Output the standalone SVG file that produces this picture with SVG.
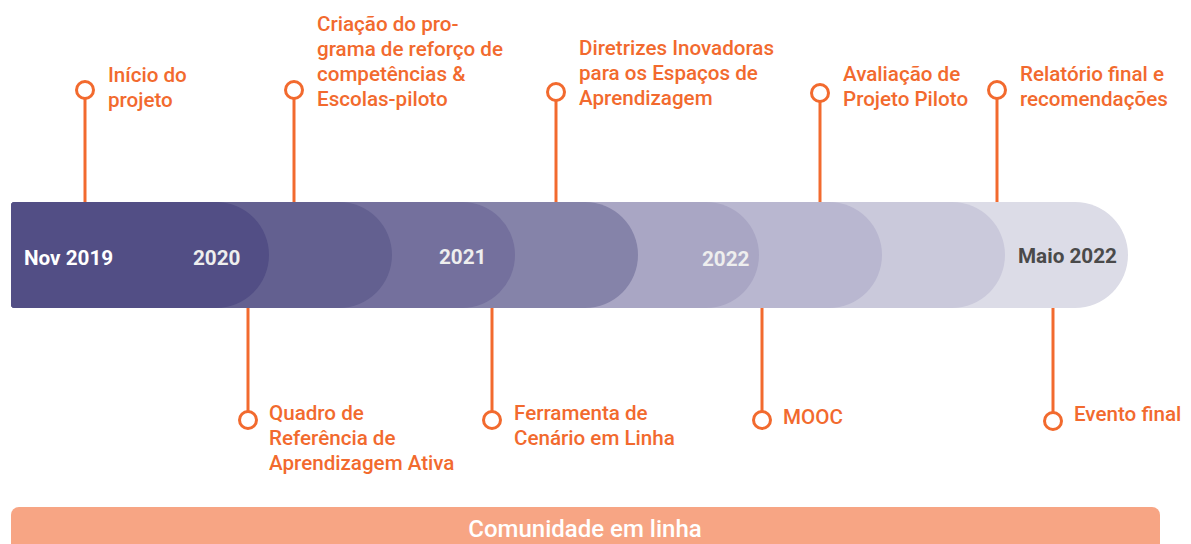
<svg xmlns="http://www.w3.org/2000/svg" width="1191" height="544" viewBox="0 0 1191 544">
<style>
.lbl{font-family:Roboto,"Liberation Sans",sans-serif;font-size:20.6px;font-weight:500;fill:#f26a2e}
.yr{font-family:Roboto,"Liberation Sans",sans-serif;font-size:20.7px;font-weight:700}
.stem{stroke:#f26a2e;stroke-width:3;fill:none}
.dot{stroke:#f26a2e;stroke-width:3;fill:#fff}
</style>
<rect width="1191" height="544" fill="#fff"/>
<g id="bar">
<path d="M15 202H1075A53 53 0 0 1 1075 308H15Q11 308 11 304V206Q11 202 15 202Z" fill="#dcdce7"/>
<path d="M15 202H952A53 53 0 0 1 952 308H15Q11 308 11 304V206Q11 202 15 202Z" fill="#cac9db"/>
<path d="M15 202H829A53 53 0 0 1 829 308H15Q11 308 11 304V206Q11 202 15 202Z" fill="#b9b7d0"/>
<path d="M15 202H706A53 53 0 0 1 706 308H15Q11 308 11 304V206Q11 202 15 202Z" fill="#a9a6c4"/>
<path d="M15 202H585A53 53 0 0 1 585 308H15Q11 308 11 304V206Q11 202 15 202Z" fill="#8583a9"/>
<path d="M15 202H462A53 53 0 0 1 462 308H15Q11 308 11 304V206Q11 202 15 202Z" fill="#74709d"/>
<path d="M15 202H339A53 53 0 0 1 339 308H15Q11 308 11 304V206Q11 202 15 202Z" fill="#636090"/>
<path d="M15 202H216A53 53 0 0 1 216 308H15Q11 308 11 304V206Q11 202 15 202Z" fill="#524e85"/>
<text class="yr" x="24" y="265" fill="#ffffff">Nov 2019</text>
<text class="yr" x="193" y="265" fill="#eeeeee">2020</text>
<text class="yr" x="439" y="264" fill="#eeeeee">2021</text>
<text class="yr" x="702" y="266" fill="#eeeeee">2022</text>
<text class="yr" x="1018" y="263" fill="#4a4a4a">Maio 2022</text>
</g>
<g id="connectors">
<line class="stem" x1="85" y1="99" x2="85" y2="202"/>
<line class="stem" x1="294" y1="99" x2="294" y2="202"/>
<line class="stem" x1="556" y1="101" x2="556" y2="202"/>
<line class="stem" x1="820" y1="102" x2="820" y2="202"/>
<line class="stem" x1="997" y1="99" x2="997" y2="202"/>
<line class="stem" x1="248" y1="308" x2="248" y2="411"/>
<line class="stem" x1="492" y1="308" x2="492" y2="411"/>
<line class="stem" x1="762" y1="308" x2="762" y2="411"/>
<line class="stem" x1="1053" y1="308" x2="1053" y2="412"/>
</g>
<g id="m1"><circle class="dot" cx="85" cy="90" r="8.5"/><text class="lbl"><tspan x="108" y="82">Início do</tspan><tspan x="108" y="107">projeto</tspan></text></g>
<g id="m2"><circle class="dot" cx="294" cy="90" r="8.5"/><text class="lbl"><tspan x="317" y="31">Criação do pro-</tspan><tspan x="317" y="56">grama de reforço de</tspan><tspan x="317" y="81">competências &amp;</tspan><tspan x="317" y="106">Escolas-piloto</tspan></text></g>
<g id="m3"><circle class="dot" cx="556" cy="92" r="8.5"/><text class="lbl"><tspan x="579" y="55">Diretrizes Inovadoras</tspan><tspan x="579" y="80">para os Espaços de</tspan><tspan x="579" y="105">Aprendizagem</tspan></text></g>
<g id="m4"><circle class="dot" cx="820" cy="93" r="8.5"/><text class="lbl"><tspan x="843" y="81">Avaliação de</tspan><tspan x="843" y="106">Projeto Piloto</tspan></text></g>
<g id="m5"><circle class="dot" cx="997" cy="90" r="8.5"/><text class="lbl"><tspan x="1020" y="81">Relatório final e</tspan><tspan x="1020" y="106">recomendações</tspan></text></g>
<g id="m6"><circle class="dot" cx="248" cy="420" r="8.5"/><text class="lbl"><tspan x="269" y="420">Quadro de</tspan><tspan x="269" y="445">Referência de</tspan><tspan x="269" y="470">Aprendizagem Ativa</tspan></text></g>
<g id="m7"><circle class="dot" cx="492" cy="420" r="8.5"/><text class="lbl"><tspan x="514" y="420">Ferramenta de</tspan><tspan x="514" y="445">Cenário em Linha</tspan></text></g>
<g id="m8"><circle class="dot" cx="762" cy="420" r="8.5"/><text class="lbl" x="783" y="424">MOOC</text></g>
<g id="m9"><circle class="dot" cx="1053" cy="421" r="8.5"/><text class="lbl" x="1074" y="421">Evento final</text></g>
<g id="community">
<rect x="11" y="507" width="1149" height="60" rx="8" fill="#f7a584"/>
<text x="585" y="537" text-anchor="middle" font-family="Roboto,'Liberation Sans',sans-serif" font-size="24" font-weight="500" fill="#ffffff">Comunidade em linha</text>
</g>
</svg>
